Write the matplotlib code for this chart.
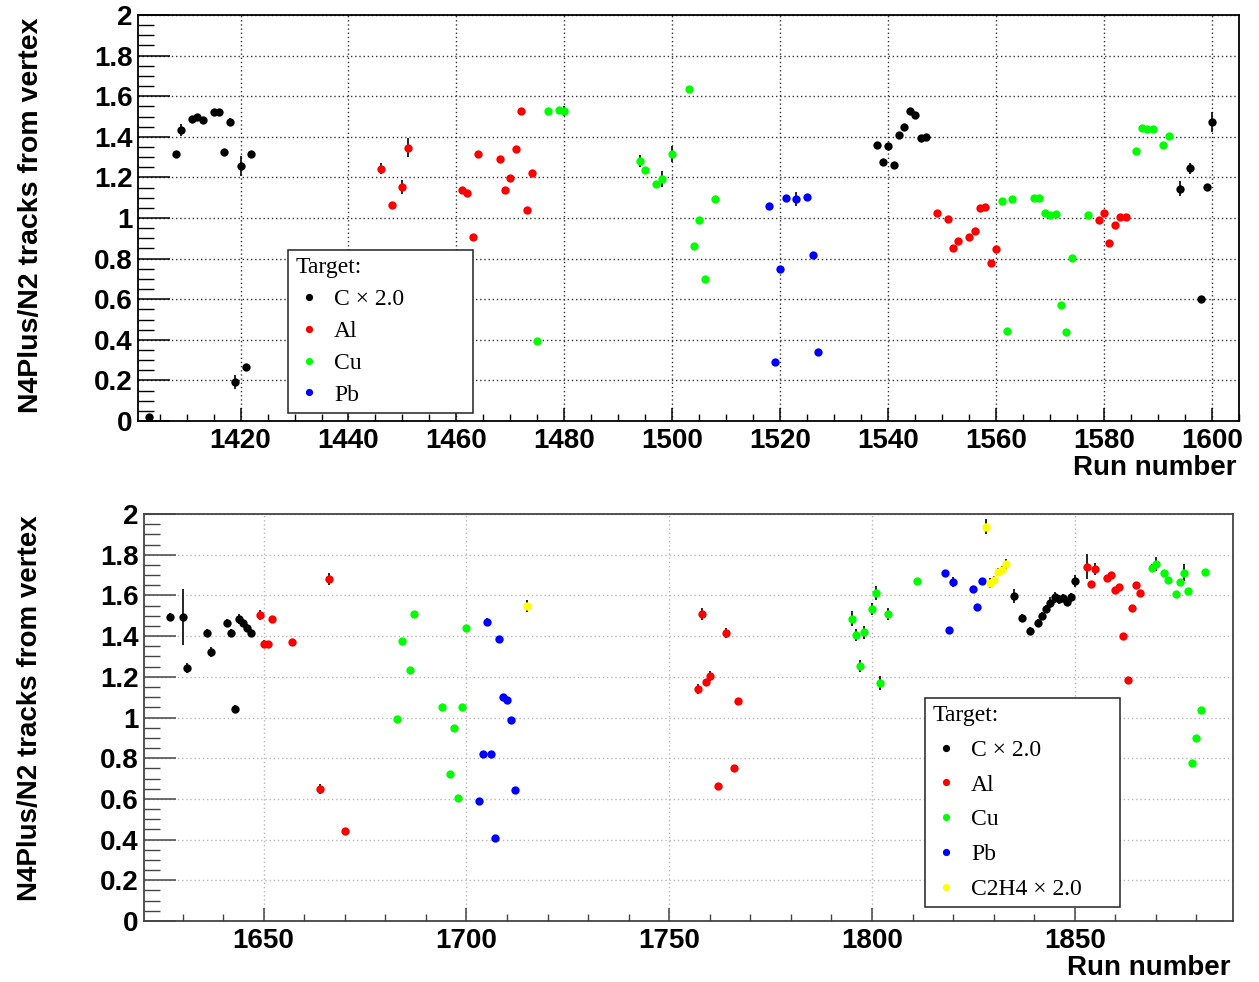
import matplotlib
matplotlib.use("Agg")
import matplotlib.pyplot as plt
from matplotlib.lines import Line2D
from matplotlib.ticker import MultipleLocator, FormatStrFormatter, FuncFormatter

# ---------------- data: runs 1400-1605 ----------------
top_c_run = [1403, 1408, 1409, 1411, 1412, 1413, 1415, 1416, 1417, 1418, 1419, 1420, 1421, 1422,
             1538, 1539, 1540, 1541, 1542, 1543, 1544, 1545, 1546, 1547, 1594, 1596, 1598, 1599, 1600]
top_c_val = [0.02, 1.315, 1.433, 1.486, 1.499, 1.483, 1.52, 1.52, 1.325, 1.475, 0.194, 1.256, 0.266, 1.315,
             1.358, 1.274, 1.353, 1.259, 1.409, 1.45, 1.529, 1.506, 1.394, 1.399, 1.144, 1.246, 0.601, 1.151, 1.475]
top_c_err = [0.01, 0.012, 0.03, 0.015, 0.015, 0.015, 0.018, 0.018, 0.012, 0.018, 0.035, 0.048, 0.012, 0.012,
             0.012, 0.012, 0.012, 0.012, 0.012, 0.012, 0.015, 0.015, 0.012, 0.012, 0.036, 0.027, 0.01, 0.012, 0.049]

top_al_run = [1446, 1448, 1450, 1451, 1461, 1462, 1463, 1464, 1468, 1469, 1470, 1471, 1472, 1473, 1474,
              1549, 1551, 1552, 1553, 1555, 1556, 1557, 1558, 1559, 1560, 1579, 1580, 1581, 1582, 1583, 1584]
top_al_val = [1.243, 1.064, 1.154, 1.347, 1.136, 1.121, 0.908, 1.315, 1.289, 1.136, 1.197, 1.341, 1.527, 1.039, 1.223,
              1.023, 0.997, 0.852, 0.888, 0.905, 0.936, 1.048, 1.053, 0.777, 0.847, 0.992, 1.025, 0.879, 0.966, 1.003, 1.003]
top_al_err = [0.026, 0.01, 0.035, 0.047, 0.01, 0.01, 0.01, 0.01, 0.01, 0.01, 0.01, 0.01, 0.01, 0.01, 0.01,
              0.01, 0.01, 0.01, 0.01, 0.01, 0.01, 0.01, 0.01, 0.01, 0.01, 0.01, 0.01, 0.01, 0.01, 0.01, 0.01]

top_cu_run = [1475, 1477, 1479, 1480, 1494, 1495, 1497, 1498, 1500, 1503, 1504, 1505, 1506, 1508,
              1561, 1562, 1563, 1567, 1568, 1569, 1570, 1571, 1572, 1573, 1574, 1577, 1586, 1587, 1588, 1589, 1591, 1592]
top_cu_val = [0.394, 1.527, 1.532, 1.527, 1.281, 1.235, 1.167, 1.192, 1.315, 1.635, 0.862, 0.992, 0.698, 1.094,
              1.084, 0.442, 1.094, 1.099, 1.099, 1.023, 1.013, 1.018, 0.57, 0.437, 0.801, 1.013, 1.33, 1.445, 1.44, 1.44, 1.358, 1.404]
top_cu_err = [0.01, 0.01, 0.01, 0.025, 0.028, 0.01, 0.01, 0.04, 0.038, 0.01, 0.01, 0.01, 0.01, 0.01,
              0.01, 0.01, 0.01, 0.01, 0.01, 0.01, 0.01, 0.01, 0.01, 0.01, 0.01, 0.01, 0.01, 0.01, 0.01, 0.01, 0.01, 0.01]

top_pb_run = [1518, 1519, 1520, 1521, 1523, 1525, 1526, 1527]
top_pb_val = [1.059, 0.289, 0.75, 1.10, 1.094, 1.105, 0.816, 0.338]
top_pb_err = [0.01, 0.01, 0.01, 0.012, 0.034, 0.01, 0.01, 0.01]

# ---------------- data: runs 1620-1889 ----------------
bot_c_run = [1627, 1630, 1631, 1636, 1637, 1641, 1642, 1643, 1644, 1645, 1646, 1647,
             1835, 1837, 1839, 1841, 1842, 1843, 1844, 1845, 1846, 1847, 1848, 1849, 1850]
bot_c_val = [1.495, 1.495, 1.242, 1.417, 1.323, 1.466, 1.417, 1.043, 1.486, 1.463, 1.438, 1.417,
             1.597, 1.487, 1.425, 1.466, 1.50, 1.535, 1.565, 1.59, 1.58, 1.586, 1.569, 1.59, 1.671]
bot_c_err = [0.02, 0.137, 0.025, 0.02, 0.025, 0.02, 0.02, 0.02, 0.025, 0.02, 0.02, 0.02,
             0.035, 0.02, 0.02, 0.02, 0.02, 0.02, 0.025, 0.025, 0.02, 0.02, 0.02, 0.02, 0.03]

bot_al_run = [1649, 1650, 1651, 1652, 1657, 1664, 1666, 1670, 1757, 1758, 1759, 1760, 1762, 1764, 1766, 1767,
              1853, 1854, 1855, 1858, 1859, 1860, 1861, 1862, 1863, 1864, 1865, 1866]
bot_al_val = [1.504, 1.361, 1.361, 1.486, 1.373, 0.647, 1.681, 0.442, 1.14, 1.51, 1.176, 1.204, 0.663, 1.417, 0.75, 1.08,
              1.741, 1.654, 1.728, 1.687, 1.699, 1.627, 1.64, 1.399, 1.183, 1.537, 1.651, 1.613]
bot_al_err = [0.025, 0.02, 0.01, 0.01, 0.01, 0.025, 0.03, 0.01, 0.025, 0.03, 0.015, 0.025, 0.01, 0.025, 0.01, 0.01,
              0.06, 0.01, 0.03, 0.01, 0.01, 0.01, 0.01, 0.01, 0.01, 0.01, 0.01, 0.01]

bot_cu_run = [1683, 1684, 1686, 1687, 1694, 1696, 1697, 1698, 1699, 1700,
              1795, 1796, 1797, 1798, 1800, 1801, 1802, 1804, 1811,
              1869, 1870, 1872, 1873, 1875, 1876, 1877, 1878, 1879, 1880, 1881, 1882]
bot_cu_val = [0.993, 1.377, 1.233, 1.51, 1.053, 0.724, 0.95, 0.606, 1.053, 1.44,
              1.486, 1.404, 1.255, 1.418, 1.532, 1.613, 1.168, 1.51, 1.671,
              1.733, 1.753, 1.712, 1.676, 1.607, 1.666, 1.712, 1.623, 0.775, 0.899, 1.038, 1.717]
bot_cu_err = [0.01, 0.01, 0.01, 0.01, 0.01, 0.01, 0.01, 0.01, 0.01, 0.01,
              0.035, 0.03, 0.03, 0.03, 0.03, 0.035, 0.035, 0.03, 0.01,
              0.02, 0.035, 0.01, 0.01, 0.01, 0.01, 0.04, 0.01, 0.01, 0.01, 0.01, 0.01]

bot_pb_run = [1703, 1704, 1705, 1706, 1707, 1708, 1709, 1710, 1711, 1712, 1818, 1819, 1820, 1825, 1826, 1827]
bot_pb_val = [0.591, 0.821, 1.468, 0.821, 0.406, 1.387, 1.099, 1.086, 0.988, 0.642, 1.712, 1.43, 1.666, 1.63, 1.541, 1.671]
bot_pb_err = [0.01, 0.01, 0.02, 0.01, 0.01, 0.01, 0.01, 0.01, 0.01, 0.01, 0.01, 0.01, 0.025, 0.01, 0.01, 0.01]

bot_c2h4_run = [1715, 1828, 1829, 1830, 1831, 1832, 1833]
bot_c2h4_val = [1.548, 1.938, 1.659, 1.676, 1.717, 1.725, 1.754]
bot_c2h4_err = [0.031, 0.035, 0.025, 0.02, 0.02, 0.02, 0.025]

top_labels = ["C × 2.0", "Al", "Cu", "Pb"]
bot_labels = ["C × 2.0", "Al", "Cu", "Pb", "C2H4 × 2.0"]
colors = ["#000000", "#ff0000", "#00ff00", "#0000ff", "#ffff00"]

SANS = "Liberation Sans"
SERIF = "Liberation Serif"
W, H = 1259, 982

fig = plt.figure(figsize=(W / 100, H / 100), dpi=100)
fig.patch.set_facecolor("white")


def px_axes(left, top, right, bottom):
    return fig.add_axes([left / W, 1 - bottom / H, (right - left) / W, (bottom - top) / H])


def style_axes(ax, xlim, xmajor, xminor, frame_color, grid_color):
    ax.set_xlim(*xlim)
    ax.set_ylim(0, 2)
    ax.xaxis.set_major_locator(MultipleLocator(xmajor))
    ax.xaxis.set_minor_locator(MultipleLocator(xminor))
    ax.yaxis.set_major_locator(MultipleLocator(0.2))
    ax.yaxis.set_minor_locator(MultipleLocator(0.05))
    ax.yaxis.set_major_formatter(FuncFormatter(lambda v, p: f"{v:g}"))
    ax.xaxis.set_major_formatter(FormatStrFormatter("%d"))
    ax.tick_params(axis="y", which="major", direction="in", length=23, width=1.1,
                   color=frame_color, pad=4, labelsize=20)
    ax.tick_params(axis="y", which="minor", direction="in", length=11.5, width=1.0, color=frame_color)
    ax.tick_params(axis="x", which="major", direction="in", length=9.5, width=1.1,
                   color=frame_color, pad=5, labelsize=20)
    ax.tick_params(axis="x", which="minor", direction="in", length=5, width=1.0, color=frame_color)
    for lab in ax.get_xticklabels() + ax.get_yticklabels():
        lab.set_fontfamily(SANS)
        lab.set_fontweight("bold")
    for sp in ax.spines.values():
        sp.set_color(frame_color)
        sp.set_linewidth(1.3)
    ax.grid(True, which="major", linestyle=(0, (1, 2)), color=grid_color, linewidth=1.0)
    ax.set_axisbelow(True)


def draw_series(ax, run, val, err, color):
    ax.errorbar(run, val, yerr=err, fmt="o", color=color, markersize=6.0,
                markeredgewidth=0, ecolor="black", elinewidth=1.2, capsize=2.2,
                capthick=1.2, zorder=3)


def add_legend(ax, labels, box_px, ax_px, spacing):
    # box_px: legend frame (left, top, right) in figure pixels; ax_px: axes (left, top, right, bottom)
    l, t, r = box_px
    al, at, ar, ab = ax_px
    x0 = (l - al) / (ar - al)
    wd = (r - l) / (ar - al)
    y1 = (ab - t) / (ab - at)
    handles = [Line2D([], [], linestyle="none", marker="o", markersize=5.2,
                      markerfacecolor=c, markeredgewidth=0) for c in colors[:len(labels)]]
    leg = ax.legend(handles, labels, title="Target:", loc="upper left",
                    bbox_to_anchor=(x0, y1 - 0.5, wd, 0.5), mode="expand",
                    bbox_transform=ax.transAxes, frameon=True, fancybox=False, framealpha=1,
                    edgecolor="#222222", borderaxespad=0, borderpad=0.3, handlelength=1.2,
                    handletextpad=0.45, labelspacing=spacing, alignment="left",
                    prop={"family": SERIF, "size": 17}, title_fontproperties={"family": SERIF, "size": 17})
    leg.get_frame().set_linewidth(1.1)
    leg.set_zorder(5)
    return leg


# ---------------- upper panel ----------------
AX1 = (138, 15, 1239, 421)
ax1 = px_axes(*AX1)
style_axes(ax1, (1401, 1605), 20, 5, "black", "#333333")
for run, val, err, c in zip([top_c_run, top_al_run, top_cu_run, top_pb_run],
                            [top_c_val, top_al_val, top_cu_val, top_pb_val],
                            [top_c_err, top_al_err, top_cu_err, top_pb_err], colors):
    draw_series(ax1, run, val, err, c)
ax1.set_ylabel("N4Plus/N2 tracks from vertex", fontfamily=SANS, fontweight="bold", fontsize=20.5)
ax1.yaxis.label.set_horizontalalignment("right")
ax1.yaxis.label.set_verticalalignment("center")
ax1.yaxis.set_label_coords(-0.097, 0.995)
ax1.set_xlabel("Run number", fontfamily=SANS, fontweight="bold", fontsize=20)
ax1.xaxis.label.set_horizontalalignment("right")
ax1.xaxis.label.set_verticalalignment("center")
ax1.xaxis.set_label_coords(0.998, -0.115)
add_legend(ax1, top_labels, (288, 250, 473), AX1, 0.44)

# ---------------- lower panel ----------------
AX2 = (144, 514, 1233, 921)
ax2 = px_axes(*AX2)
style_axes(ax2, (1620.5, 1889), 50, 10, "#444444", "#b8b8b8")
for run, val, err, c in zip([bot_c_run, bot_al_run, bot_cu_run, bot_pb_run, bot_c2h4_run],
                            [bot_c_val, bot_al_val, bot_cu_val, bot_pb_val, bot_c2h4_val],
                            [bot_c_err, bot_al_err, bot_cu_err, bot_pb_err, bot_c2h4_err], colors):
    draw_series(ax2, run, val, err, c)
ax2.set_ylabel("N4Plus/N2 tracks from vertex", fontfamily=SANS, fontweight="bold", fontsize=20)
ax2.yaxis.label.set_horizontalalignment("right")
ax2.yaxis.label.set_verticalalignment("center")
ax2.yaxis.set_label_coords(-0.1046, 0.997)
ax2.set_xlabel("Run number", fontfamily=SANS, fontweight="bold", fontsize=20)
ax2.xaxis.label.set_horizontalalignment("right")
ax2.xaxis.label.set_verticalalignment("center")
ax2.xaxis.set_label_coords(0.998, -0.115)
add_legend(ax2, bot_labels, (925, 698, 1120), AX2, 0.56)

fig.savefig("out.png", dpi=100)
